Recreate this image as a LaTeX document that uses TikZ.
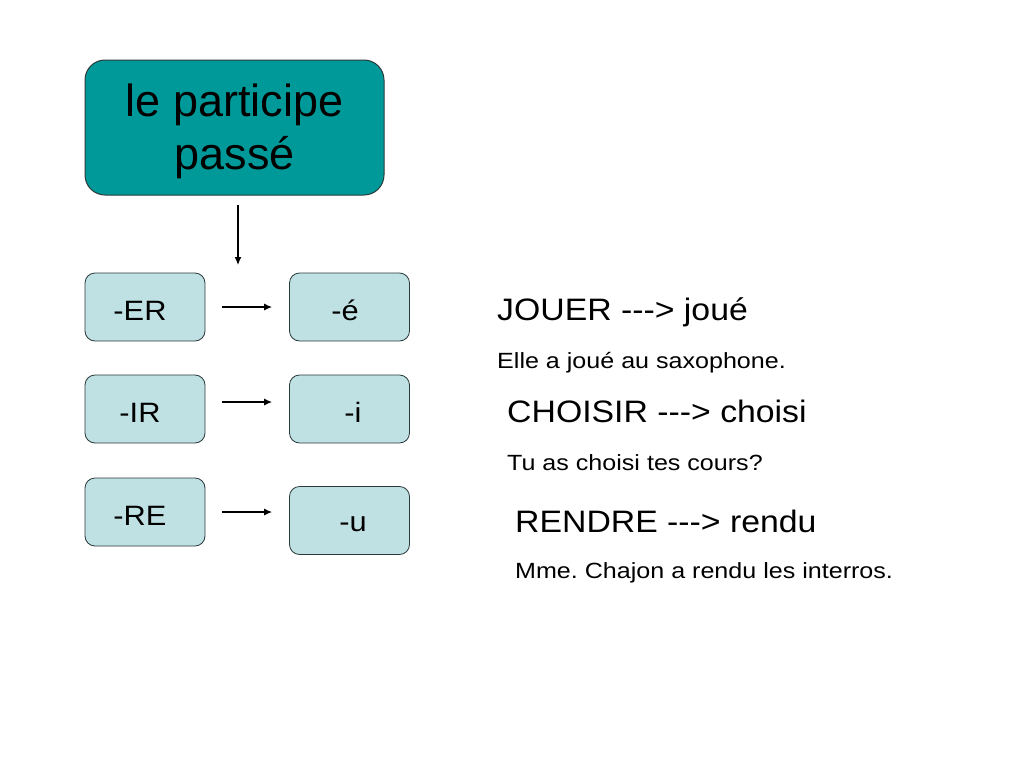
\documentclass[tikz,border=0pt]{standalone}
\usepackage{fontspec}
\setmainfont{Liberation Sans}[Ligatures=TeXOff]
\usepackage{graphicx}
\usetikzlibrary{arrows.meta}
\definecolor{teal1}{HTML}{009999}
\definecolor{lightb}{HTML}{BFE1E4}
\definecolor{edge}{HTML}{2A3A3A}
\tikzset{
  bigbox/.style={draw=edge, line width=1pt, fill=teal1, rounded corners=20pt, minimum width=299pt, minimum height=135pt, inner sep=0pt},
  smallbox/.style={draw=edge, line width=0.8pt, fill=lightb, rounded corners=10pt, minimum width=120pt, minimum height=68pt, inner sep=0pt},
  boxtxt/.style={anchor=base, inner sep=0pt, font=\fontsize{28}{34}\selectfont},
  headtxt/.style={anchor=base west, inner sep=0pt, font=\fontsize{31}{37}\selectfont},
  exptxt/.style={anchor=base west, inner sep=0pt, font=\fontsize{22}{26}\selectfont},
  arr/.style={line width=1.2pt, -{Latex[length=8pt,width=7pt]}}
}
\frenchspacing
\begin{document}
\begin{tikzpicture}[x=1pt,y=-1pt]
\useasboundingbox[fill=white] (0,0) rectangle (1024,768);
% main box
\node[bigbox] (pp) at (234.5,127.5) {};
\node[inner sep=0pt, align=center, font=\fontsize{45}{53}\selectfont] (pptxt) at (234.5,131.8) {le participe\\passé};
% small boxes
\node[smallbox] (er) at (145,307) {};
\node[smallbox] (e)  at (349.5,307) {};
\node[smallbox] (ir) at (145,409) {};
\node[smallbox] (i)  at (349.5,409) {};
\node[smallbox] (re) at (145,512) {};
\node[smallbox] (u)  at (349.5,520.5) {};
\node[boxtxt] (ert) at (140,320) {\scalebox{1.1}[1]{-ER}};
\node[boxtxt] (et)  at (345,320) {\scalebox{1.1}[1]{-é}};
\node[boxtxt] (irt) at (140,422) {\scalebox{1.1}[1]{-IR}};
\node[boxtxt] (it)  at (353,422) {\scalebox{1.1}[1]{-i}};
\node[boxtxt] (ret) at (140,525) {\scalebox{1.1}[1]{-RE}};
\node[boxtxt] (ut)  at (353,531) {\scalebox{1.1}[1]{-u}};
% arrows
\coordinate (vtop) at (238,205);
\coordinate (vbot) at (238,265);
\draw[arr] (vtop) -- (vbot);
\draw[arr, shorten <=17pt, shorten >=17pt] (er.east) -- (er.east -| e.west);
\draw[arr, shorten <=17pt, shorten >=17pt] ([yshift=7pt]ir.east) -- ([yshift=7pt]ir.east -| i.west);
\draw[arr, shorten <=17pt, shorten >=17pt] (re.east) -- (re.east -| u.west);
% right texts
\node[headtxt] (h1) at (497,320) {\scalebox{1.09}[1]{JOUER ---> joué}};
\node[exptxt]  (x1) at (497,368) {\scalebox{1.14}[1]{Elle a joué au saxophone.}};
\node[headtxt] (h2) at (507,422) {\scalebox{1.09}[1]{CHOISIR ---> choisi}};
\node[exptxt]  (x2) at (507,470) {\scalebox{1.14}[1]{Tu as choisi tes cours?}};
\node[headtxt] (h3) at (515,532) {\scalebox{1.09}[1]{RENDRE ---> rendu}};
\node[exptxt]  (x3) at (515,578) {\scalebox{1.14}[1]{Mme. Chajon a rendu les interros.}};
\end{tikzpicture}
\end{document}
